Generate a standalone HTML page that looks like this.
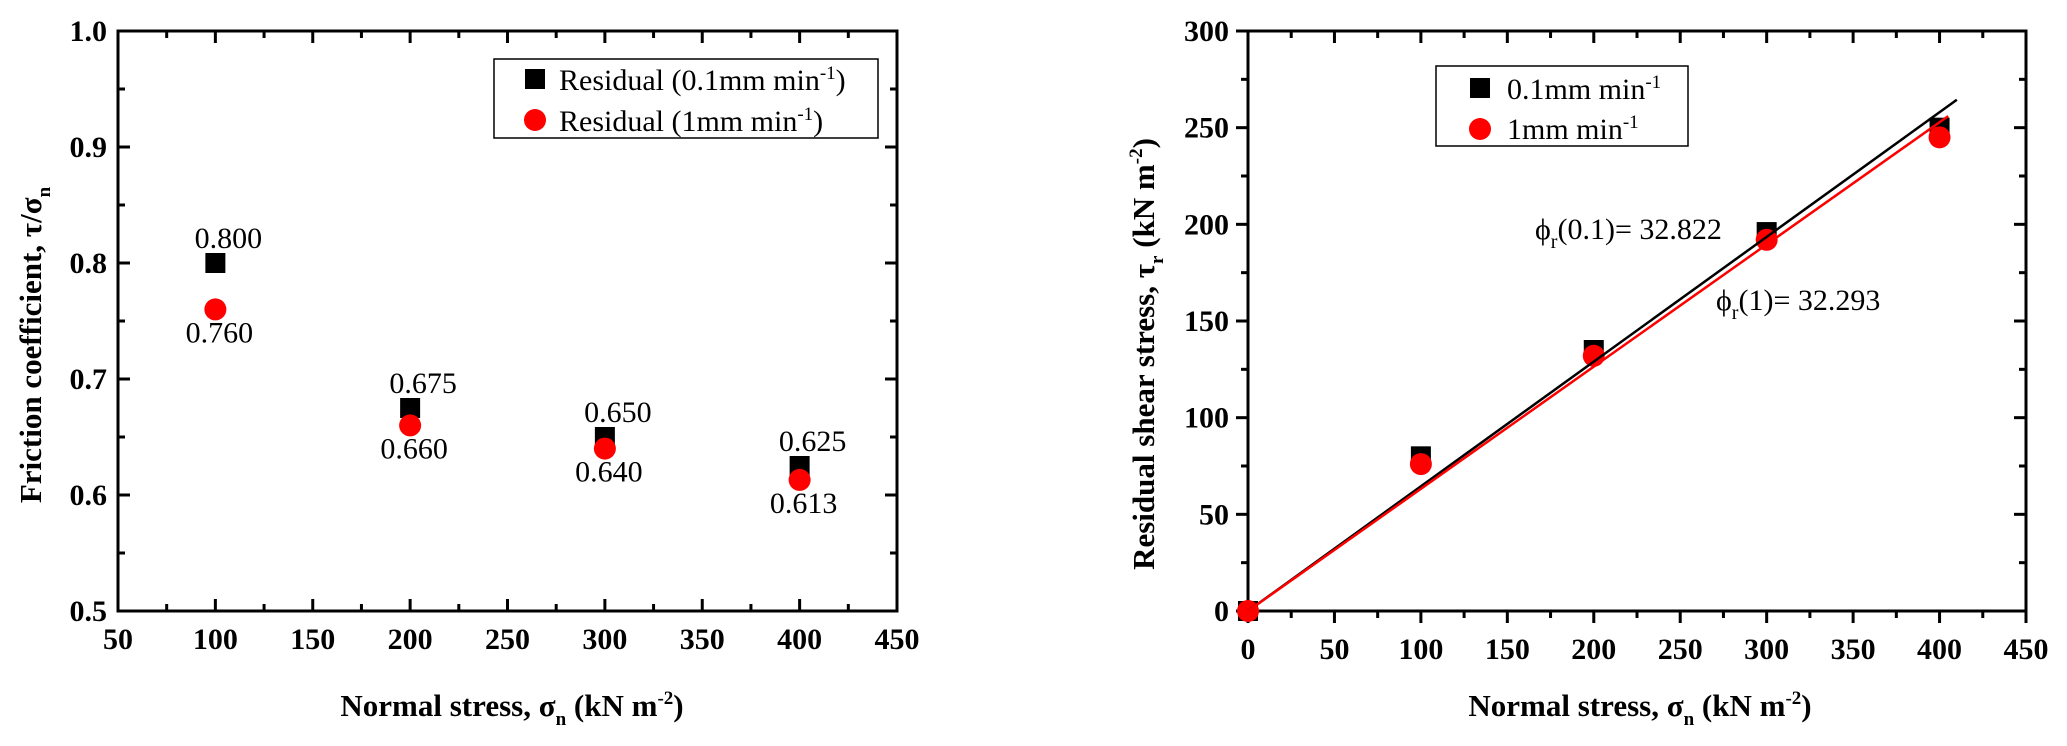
<!DOCTYPE html>
<html><head><meta charset="utf-8"><style>
html,body{margin:0;padding:0;background:#fff;}
svg{display:block;font-family:"Liberation Serif","DejaVu Serif",serif;}
.tk{font-weight:bold;font-size:30px;}
.ttl{font-weight:bold;font-size:31px;}
.ann{font-size:30px;}
.leg{font-size:30px;}
</style></head><body>
<svg id="svg" width="2067" height="746" viewBox="0 0 2067 746" xmlns="http://www.w3.org/2000/svg">
<g id="left"></g>
<g id="right"></g>
</svg>
<script>
const NS="http://www.w3.org/2000/svg";
// Left chart data
const leftStress=[100,200,300,400];
const leftSlow=[0.800,0.675,0.650,0.625];
const leftFast=[0.760,0.660,0.640,0.613];
const leftSlowLabels=["0.800","0.675","0.650","0.625"];
const leftFastLabels=["0.760","0.660","0.640","0.613"];
const leftXTicks=[50,100,150,200,250,300,350,400,450];
const leftYTicks=[0.5,0.6,0.7,0.8,0.9,1.0];
const leftYTickLabels=["0.5","0.6","0.7","0.8","0.9","1.0"];
// Right chart data
const rightStress=[0,100,200,300,400];
const rightSlow=[0,80,135,196,250];
const rightFast=[0,76,132,192,245];
const rightXTicks=[0,50,100,150,200,250,300,350,400,450];
const rightYTicks=[0,50,100,150,200,250,300];
const phiSlow=32.822, phiFast=32.293;
const fitEndSlow=410, fitEndFast=405;

function mk(tag,attrs,parent,text){const e=document.createElementNS(NS,tag);for(const k in attrs)e.setAttribute(k,attrs[k]);if(text!==undefined)e.textContent=text;parent.appendChild(e);return e;}

// ---------- LEFT ----------
const L=document.getElementById('left');
const lx0=118,lx1=897,ly0=611,ly1=31;
const lX=v=>lx0+(v-50)/400*(lx1-lx0);
const lY=v=>ly0-(v-0.5)/0.5*(ly0-ly1);
let f=mk('rect',{x:lx0,y:ly1,width:lx1-lx0,height:ly0-ly1,fill:'none',stroke:'#000','stroke-width':3},L);

for(let i=0;i<leftXTicks.length;i++){const v=leftXTicks[i],x=lX(v);
 mk('line',{x1:x,x2:x,y1:ly0,y2:ly0-12,stroke:'#000','stroke-width':3},L);
 mk('line',{x1:x,x2:x,y1:ly1,y2:ly1+12,stroke:'#000','stroke-width':3},L);
 if(i<leftXTicks.length-1){const xm=lX(v+25);
  mk('line',{x1:xm,x2:xm,y1:ly0,y2:ly0-7,stroke:'#000','stroke-width':3},L);
  mk('line',{x1:xm,x2:xm,y1:ly1,y2:ly1+7,stroke:'#000','stroke-width':3},L);}
 const t=mk('text',{x:x,y:649,'text-anchor':'middle',class:'tk'},L,String(v));
 }
for(let i=0;i<leftYTicks.length;i++){const v=leftYTicks[i],y=lY(v);
 mk('line',{x1:lx0,x2:lx0+12,y1:y,y2:y,stroke:'#000','stroke-width':3},L);
 mk('line',{x1:lx1,x2:lx1-12,y1:y,y2:y,stroke:'#000','stroke-width':3},L);
 if(i<leftYTicks.length-1){const ym=lY(v+0.05);
  mk('line',{x1:lx0,x2:lx0+7,y1:ym,y2:ym,stroke:'#000','stroke-width':3},L);
  mk('line',{x1:lx1,x2:lx1-7,y1:ym,y2:ym,stroke:'#000','stroke-width':3},L);}
 const t=mk('text',{x:107,y:y+10,'text-anchor':'end',class:'tk'},L,leftYTickLabels[i]);
 }
for(let i=0;i<leftStress.length;i++){
 const x=lX(leftStress[i]),ys=lY(leftSlow[i]),yf=lY(leftFast[i]);
 const s=mk('rect',{x:x-10,y:ys-10,width:20,height:20,fill:'#000'},L);
 
 const c=mk('circle',{cx:x,cy:yf,r:11,fill:'#ff0000'},L);
 
 const a=mk('text',{x:x+13,y:ys-15,'text-anchor':'middle',class:'ann'},L,leftSlowLabels[i]);
 
 const b=mk('text',{x:x+4,y:yf+33,'text-anchor':'middle',class:'ann'},L,leftFastLabels[i]);
 }
</script>
<script>
(function(){
const L=document.getElementById('left');
let g=mk('g',{},L);
mk('rect',{x:494,y:59,width:384,height:79,fill:'#fff',stroke:'#000','stroke-width':1.5},g);
mk('rect',{x:525,y:69,width:20,height:20,fill:'#000'},g);
mk('circle',{cx:535,cy:120,r:11,fill:'#ff0000'},g);
const t1=mk('text',{x:559,y:90,class:'leg'},g);t1.innerHTML='Residual (0.1mm min<tspan dy="-11" font-size="19">-1</tspan><tspan dy="11">)</tspan>';
const t2=mk('text',{x:559,y:131,class:'leg'},g);t2.innerHTML='Residual (1mm min<tspan dy="-11" font-size="19">-1</tspan><tspan dy="11">)</tspan>';
const xt=mk('text',{x:512,y:716,'text-anchor':'middle',class:'ttl'},L);

xt.innerHTML='Normal stress, σ<tspan dy="9" font-size="19">n</tspan><tspan dy="-9"> (kN m</tspan><tspan dy="-12" font-size="19">-2</tspan><tspan dy="12">)</tspan>';
const yt=mk('text',{x:0,y:0,'text-anchor':'middle',class:'ttl','font-size':'28',transform:'translate(41,345) rotate(-90)'},L);

yt.innerHTML='Friction coefficient, τ/σ<tspan dy="9" font-size="19">n</tspan>';
})();
</script>
<script>
(function(){
const R=document.getElementById('right');
const rx0=1248,rx1=2026,ry0=611,ry1=31;
const rX=v=>rx0+v/450*(rx1-rx0);
const rY=v=>ry0-v/300*(ry0-ry1);
let f=mk('rect',{x:rx0,y:ry1,width:rx1-rx0,height:ry0-ry1,fill:'none',stroke:'#000','stroke-width':3},R);

for(let i=0;i<rightXTicks.length;i++){const v=rightXTicks[i],x=rX(v);
 mk('line',{x1:x,x2:x,y1:ry0,y2:ry0+12,stroke:'#000','stroke-width':3},R);
 mk('line',{x1:x,x2:x,y1:ry1,y2:ry1+12,stroke:'#000','stroke-width':3},R);
 if(i<rightXTicks.length-1){const xm=rX(v+25);
  mk('line',{x1:xm,x2:xm,y1:ry0,y2:ry0+7,stroke:'#000','stroke-width':3},R);
  mk('line',{x1:xm,x2:xm,y1:ry1,y2:ry1+7,stroke:'#000','stroke-width':3},R);}
 const t=mk('text',{x:x,y:659,'text-anchor':'middle',class:'tk'},R,String(v));
 }
for(let i=0;i<rightYTicks.length;i++){const v=rightYTicks[i],y=rY(v);
 mk('line',{x1:rx0,x2:rx0-12,y1:y,y2:y,stroke:'#000','stroke-width':3},R);
 mk('line',{x1:rx1,x2:rx1-12,y1:y,y2:y,stroke:'#000','stroke-width':3},R);
 if(i<rightYTicks.length-1){const ym=rY(v+25);
  mk('line',{x1:rx0,x2:rx0-7,y1:ym,y2:ym,stroke:'#000','stroke-width':3},R);
  mk('line',{x1:rx1,x2:rx1-7,y1:ym,y2:ym,stroke:'#000','stroke-width':3},R);}
 const t=mk('text',{x:1229,y:y+10,'text-anchor':'end',class:'tk'},R,String(v));
 }
const ts=Math.tan(phiSlow*Math.PI/180),tf=Math.tan(phiFast*Math.PI/180);
for(let i=0;i<rightStress.length;i++){
 const x=rX(rightStress[i]);
 const s=mk('rect',{x:x-10,y:rY(rightSlow[i])-10,width:20,height:20,fill:'#000'},R);
 
 const c=mk('circle',{cx:x,cy:rY(rightFast[i]),r:11,fill:'#ff0000'},R);
 }
const l1=mk('line',{x1:rX(0),y1:rY(0),x2:rX(fitEndSlow),y2:rY(fitEndSlow*ts),stroke:'#000','stroke-width':2.5},R);

const l2=mk('line',{x1:rX(0),y1:rY(0),x2:rX(fitEndFast),y2:rY(fitEndFast*tf),stroke:'#ff0000','stroke-width':2.5},R);

const a1=mk('text',{x:1535,y:239,class:'ann','font-size':'34'},R);

a1.innerHTML='ϕ<tspan dy="9" font-size="20">r</tspan><tspan dy="-9">(0.1)= '+phiSlow.toFixed(3)+'</tspan>';
const a2=mk('text',{x:1716,y:310,class:'ann','font-size':'34'},R);

a2.innerHTML='ϕ<tspan dy="9" font-size="20">r</tspan><tspan dy="-9">(1)= '+phiFast.toFixed(3)+'</tspan>';
let g=mk('g',{},R);
mk('rect',{x:1436,y:66,width:252,height:80,fill:'#fff',stroke:'#000','stroke-width':1.5},g);
mk('rect',{x:1470,y:78,width:20,height:20,fill:'#000'},g);
mk('circle',{cx:1480,cy:129,r:11,fill:'#ff0000'},g);
const t1=mk('text',{x:1507,y:99,class:'leg'},g);t1.innerHTML='0.1mm min<tspan dy="-11" font-size="19">-1</tspan>';
const t2=mk('text',{x:1507,y:139,class:'leg'},g);t2.innerHTML='1mm min<tspan dy="-11" font-size="19">-1</tspan>';
const xt=mk('text',{x:1640,y:716,'text-anchor':'middle',class:'ttl'},R);

xt.innerHTML='Normal stress, σ<tspan dy="9" font-size="19">n</tspan><tspan dy="-9"> (kN m</tspan><tspan dy="-12" font-size="19">-2</tspan><tspan dy="12">)</tspan>';
const yt=mk('text',{x:0,y:0,'text-anchor':'middle',class:'ttl','font-size':'31',transform:'translate(1154,354) rotate(-90)'},R);

yt.innerHTML='Residual shear stress, τ<tspan dy="9" font-size="19">r</tspan><tspan dy="-9"> (kN m</tspan><tspan dy="-12" font-size="19">-2</tspan><tspan dy="12">)</tspan>';
})();
</script>
</body></html>
